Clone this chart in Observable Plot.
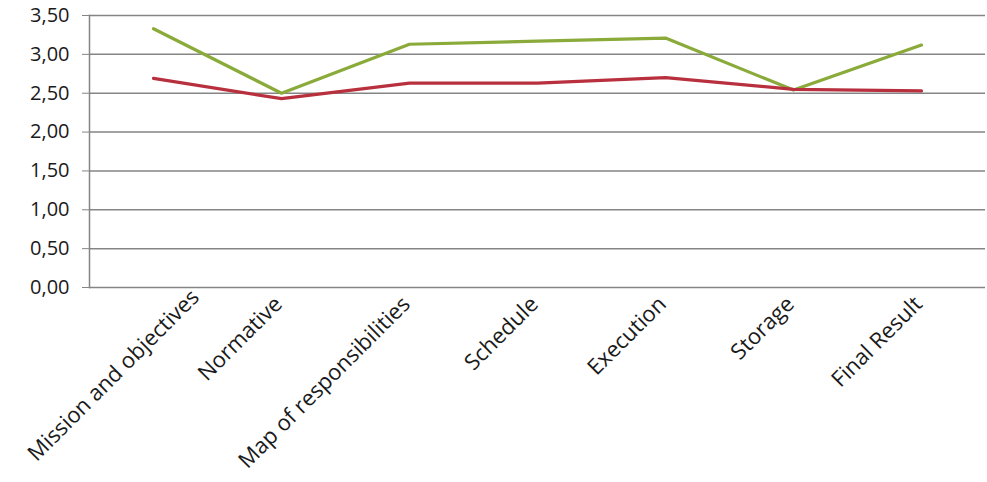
<!DOCTYPE html>
<html>
<head>
<meta charset="utf-8">
<script src="https://cdn.jsdelivr.net/npm/d3@7"></script>
<script src="https://cdn.jsdelivr.net/npm/@observablehq/plot@0.6"></script>
<style>
  html, body { margin: 0; padding: 0; background: #ffffff; }
  #chart svg { display: block; }
  #chart svg .yax text { font-size: 20px !important; fill: #1a1a1a; }
  #chart svg .xax text { font-size: 22px !important; fill: #1a1a1a; }
</style>
</head>
<body>
<div id="chart"></div>
<script>
const categories = ["Mission and objectives", "Normative", "Map of responsibilities", "Schedule", "Execution", "Storage", "Final Result"];
const greenValues = [3.33, 2.50, 3.13, 3.17, 3.21, 2.54, 3.12];
const redValues = [2.69, 2.43, 2.63, 2.63, 2.70, 2.55, 2.53];
const yTicks = [0, 0.5, 1, 1.5, 2, 2.5, 3, 3.5];

const rows = [];
categories.forEach((c, i) => {
  rows.push({cat: c, value: greenValues[i], series: "green"});
  rows.push({cat: c, value: redValues[i], series: "red"});
});

const chart = Plot.plot({
  width: 987,
  height: 482,
  marginLeft: 89,
  marginRight: 2,
  marginTop: 15,
  marginBottom: 195,
  style: {fontFamily: "Open Sans", fontSize: "19px", color: "#1a1a1a", background: "#ffffff"},
  x: {type: "point", domain: categories, label: null, padding: 0.5},
  y: {domain: [0, 3.5], label: null},
  marks: [
    Plot.ruleY(yTicks, {stroke: "#858585", strokeWidth: 1.5}),
    Plot.frame({anchor: "left", stroke: "#858585", strokeWidth: 1.5}),
    Plot.axisY({className: "yax", ticks: yTicks, tickSize: 7, tickPadding: 13, tickFormat: d => d.toFixed(2).replace(".", ","), stroke: "#858585"}),
    Plot.axisX({className: "xax", ticks: categories.slice(1), tickSize: 0, tickPadding: 9, tickRotate: -45, dx: -3, dy: 4}),
    Plot.axisX({className: "xax", ticks: categories.slice(0, 1), tickSize: 0, tickPadding: 9, tickRotate: -45, dx: 42, dy: -3}),
    Plot.line(rows.filter(d => d.series === "green"), {x: "cat", y: "value", stroke: "#8aaa3a", strokeWidth: 3.2}),
    Plot.line(rows.filter(d => d.series === "red"), {x: "cat", y: "value", stroke: "#b8303e", strokeWidth: 3.2})
  ]
});
document.getElementById("chart").appendChild(chart);
</script>
</body>
</html>
